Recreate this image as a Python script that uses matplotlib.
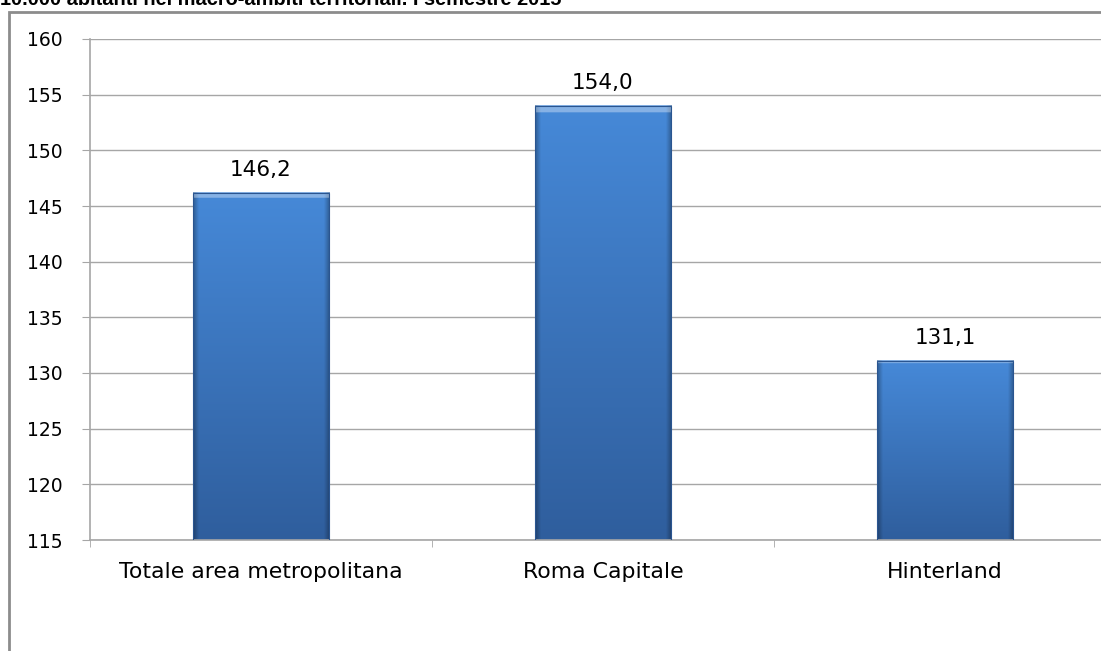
import matplotlib.pyplot as plt
import numpy as np
from matplotlib.colors import to_rgb
from matplotlib.patches import Rectangle

categories = ['Totale area metropolitana', 'Roma Capitale', 'Hinterland']
values = [146.2, 154.0, 131.1]
value_labels = ['146,2', '154,0', '131,1']
y_ticks = [115, 120, 125, 130, 135, 140, 145, 150, 155, 160]
title = '10.000 abitanti nei macro-ambiti territoriali. I semestre 2015'

fig_w, fig_h = 1101, 651
dpi = 100
font = 'DejaVu Sans'
grid_color = '#a6a6a6'


def bar_gradient(height_px, width_px):
    """Vertical light-to-dark blue with darker side edges, like an Excel bevel."""
    top = np.array(to_rgb('#4689d8'))
    bottom = np.array(to_rgb('#2f5e9d'))
    t = np.linspace(0, 1, height_px)[:, None, None]
    img = top * (1 - t) + bottom * t
    img = np.repeat(img, width_px, axis=1)
    x = np.linspace(-1, 1, width_px)
    side = np.clip((np.abs(x) - 0.92) / 0.08, 0, 1)[None, :, None]
    img = img * (1 - 0.3 * side)
    # lighter bevel strip along the top
    strip = max(2, height_px // 60)
    img[:strip] = img[:strip] * 0.65 + 0.35
    return np.clip(img, 0, 1)


fig = plt.figure(figsize=(fig_w / dpi, fig_h / dpi), dpi=dpi)
fig.patch.set_facecolor('white')

# outer chart frame, cropped on the right and bottom
fig.add_artist(Rectangle((9 / fig_w, -0.05), 1.1, 1 - 12 / fig_h + 0.05,
                         transform=fig.transFigure, fill=False,
                         edgecolor='#8c8c8c', linewidth=2))

# title sits mostly above the visible area, as in the cropped original
fig.text(0.0, 1 - 5 / fig_h, title, fontsize=14.4, fontweight='bold',
         family='Liberation Sans', ha='left', va='baseline')

left, right = 90 / fig_w, 1116 / fig_w
bottom, top = 1 - 540 / fig_h, 1 - 39 / fig_h
ax = fig.add_axes([left, bottom, right - left, top - bottom])

x = np.arange(len(categories))
bar_w = 0.40

ax.set_yticks(y_ticks)
ax.set_yticklabels([str(v) for v in y_ticks], family=font, fontsize=13.5)
ax.set_xticks(x)
ax.set_xticklabels(categories, family=font, fontsize=15.8)
ax.set_xticks(np.arange(len(categories) + 1) - 0.5, minor=True)
ax.tick_params(axis='y', length=6, color=grid_color, pad=13.5)
ax.tick_params(axis='x', which='major', length=0, pad=16)
ax.tick_params(axis='x', which='minor', length=5, color=grid_color)

ax.grid(axis='y', color=grid_color, linewidth=1)
ax.set_axisbelow(True)
for side in ['top', 'right']:
    ax.spines[side].set_visible(False)
for side in ['left', 'bottom']:
    ax.spines[side].set_color(grid_color)
    ax.spines[side].set_linewidth(1.2)

bars = ax.bar(x, values, width=bar_w, bottom=0, color='none',
              edgecolor='#2a5590', linewidth=0.8, zorder=3)
for rect, val in zip(bars, values):
    x0 = rect.get_x()
    img = bar_gradient(300, 120)
    ax.imshow(img, extent=(x0, x0 + bar_w, 115, val), aspect='auto',
              zorder=2, interpolation='bilinear')

for xi, val, lab in zip(x, values, value_labels):
    ax.annotate(lab, (xi, val), xytext=(0, 9), textcoords='offset points',
                ha='center', va='bottom', family=font, fontsize=15.5)

ax.set_xlim(-0.5, len(categories) - 0.5)
ax.set_ylim(115, 160)

fig.savefig('out.png', dpi=dpi)
